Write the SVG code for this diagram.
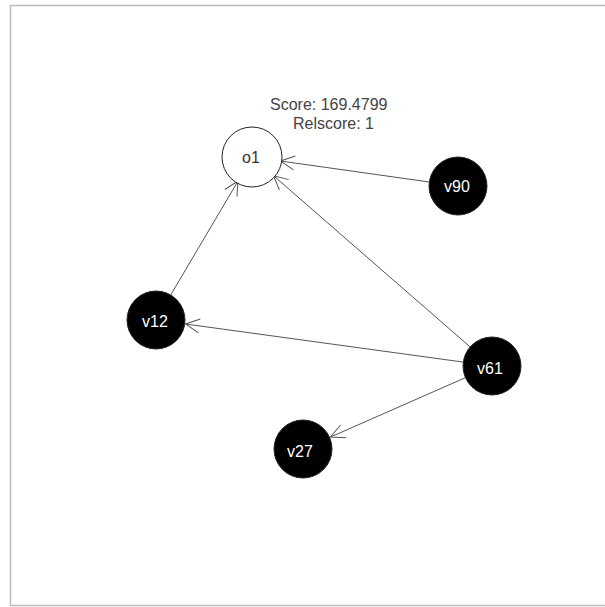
<svg xmlns="http://www.w3.org/2000/svg" width="605" height="607" viewBox="0 0 605 607">
<style>
.edge{stroke:#555;stroke-width:1;fill:none}
.node circle{stroke:#222;stroke-width:1}
.dark circle{fill:#000}
.light circle{fill:#fff}
.lbl{font-family:"Liberation Sans",Arial,sans-serif;font-size:16px;text-anchor:middle}
.dark text{fill:#fff}
.light text{fill:#333}
.score{font-family:"Liberation Sans",Arial,sans-serif;font-size:16px;fill:#444}
</style>
<defs>
<marker id="arr" markerUnits="userSpaceOnUse" markerWidth="20" markerHeight="20" viewBox="-16 -10 20 20" refX="0" refY="0" orient="auto">
<path d="M-14,-7 L0,0 L-14,7" fill="none" stroke="#555" stroke-width="1"/>
</marker>
</defs>
<rect x="10.5" y="5.5" width="600" height="600" fill="#fff" stroke="#bbb" stroke-width="1.5"/>
<g id="connectors">
<line class="edge" x1="429.3" y1="182" x2="280.5" y2="161" marker-end="url(#arr)"/>
<line class="edge" x1="170.7" y1="295" x2="238" y2="181" marker-end="url(#arr)"/>
<line class="edge" x1="470.1" y1="346.9" x2="273.5" y2="175.7" marker-end="url(#arr)"/>
<line class="edge" x1="463.3" y1="362.1" x2="185.5" y2="324" marker-end="url(#arr)"/>
<line class="edge" x1="465.4" y1="377.7" x2="330.5" y2="437" marker-end="url(#arr)"/>
</g>
<text class="score" x="270" y="110">Score: 169.4799</text>
<text class="score" x="293" y="129">Relscore: 1</text>
<g id="o1" class="node light"><circle cx="252" cy="157" r="30"/><text class="lbl" x="251" y="162.5">o1</text></g>
<g id="v90" class="node dark"><circle cx="458" cy="186" r="29"/><text class="lbl" x="457" y="191.5">v90</text></g>
<g id="v12" class="node dark"><circle cx="156" cy="320" r="29"/><text class="lbl" x="155" y="327">v12</text></g>
<g id="v61" class="node dark"><circle cx="492" cy="366" r="29"/><text class="lbl" x="490" y="374">v61</text></g>
<g id="v27" class="node dark"><circle cx="303" cy="449" r="29"/><text class="lbl" x="300" y="456.5">v27</text></g>
</svg>
